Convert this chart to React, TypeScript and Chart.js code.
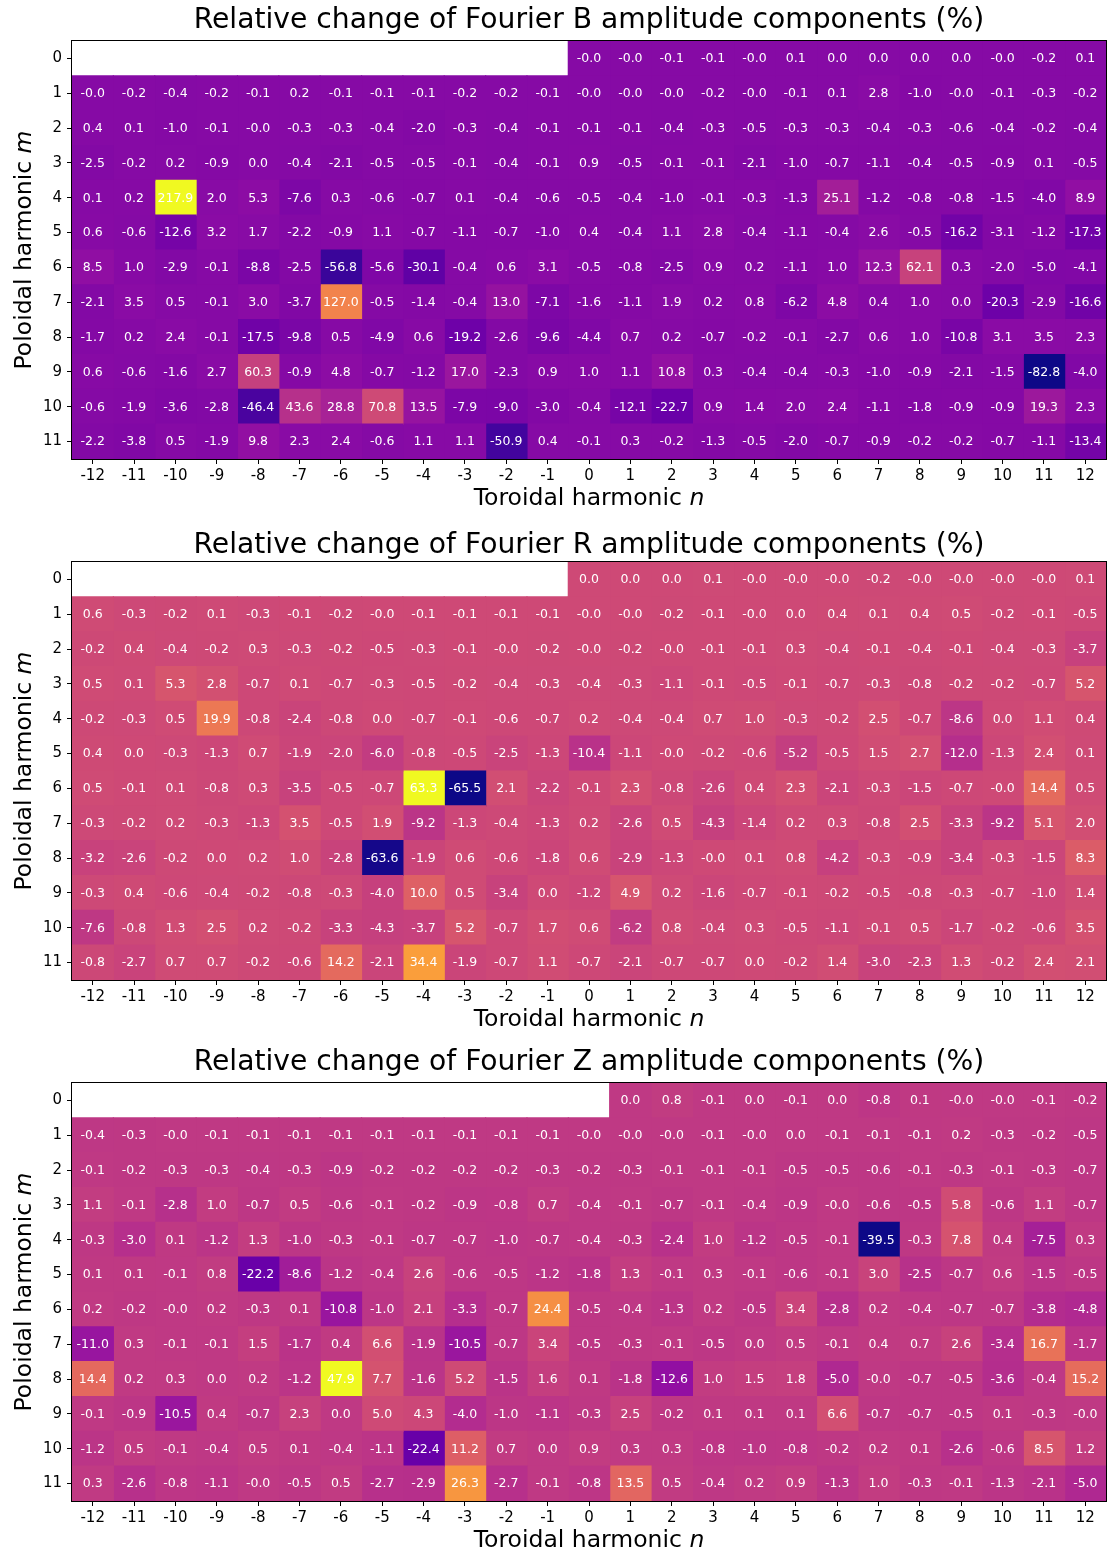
import React, { useEffect, useRef } from 'react';
import { Chart, registerables } from 'chart.js';

Chart.register(...registerables);

// Missing harmonics (m = 0 with negative n) are left blank.
const _ = null;

// Toroidal harmonic n (columns) and poloidal harmonic m (rows).
const toroidalN = [-12, -11, -10, -9, -8, -7, -6, -5, -4, -3, -2, -1, 0, 1, 2, 3, 4, 5, 6, 7, 8, 9, 10, 11, 12];
const poloidalM = [0, 1, 2, 3, 4, 5, 6, 7, 8, 9, 10, 11];

// Relative change (%) of the Fourier B amplitudes, row m = 0..11, column n = -12..12.
const changeB = [
  [_, _, _, _, _, _, _, _, _, _, _, _, -0.02, -0.02, -0.1, -0.1, -0.02, 0.1, 0.0, 0.0, 0.0, 0.0, -0.02, -0.2, 0.1],
  [-0.02, -0.2, -0.4, -0.2, -0.1, 0.2, -0.1, -0.1, -0.1, -0.2, -0.2, -0.1, -0.02, -0.02, -0.02, -0.2, -0.02, -0.1, 0.1, 2.8, -1.0, -0.02, -0.1, -0.3, -0.2],
  [0.4, 0.1, -1.0, -0.1, -0.02, -0.3, -0.3, -0.4, -2.0, -0.3, -0.4, -0.1, -0.1, -0.1, -0.4, -0.3, -0.5, -0.3, -0.3, -0.4, -0.3, -0.6, -0.4, -0.2, -0.4],
  [-2.5, -0.2, 0.2, -0.9, 0.0, -0.4, -2.1, -0.5, -0.5, -0.1, -0.4, -0.1, 0.9, -0.5, -0.1, -0.1, -2.1, -1.0, -0.7, -1.1, -0.4, -0.5, -0.9, 0.1, -0.5],
  [0.1, 0.2, 217.9, 2.0, 5.3, -7.6, 0.3, -0.6, -0.7, 0.1, -0.4, -0.6, -0.5, -0.4, -1.0, -0.1, -0.3, -1.3, 25.1, -1.2, -0.8, -0.8, -1.5, -4.0, 8.9],
  [0.6, -0.6, -12.6, 3.2, 1.7, -2.2, -0.9, 1.1, -0.7, -1.1, -0.7, -1.0, 0.4, -0.4, 1.1, 2.8, -0.4, -1.1, -0.4, 2.6, -0.5, -16.2, -3.1, -1.2, -17.3],
  [8.5, 1.0, -2.9, -0.1, -8.8, -2.5, -56.8, -5.6, -30.1, -0.4, 0.6, 3.1, -0.5, -0.8, -2.5, 0.9, 0.2, -1.1, 1.0, 12.3, 62.1, 0.3, -2.0, -5.0, -4.1],
  [-2.1, 3.5, 0.5, -0.1, 3.0, -3.7, 127.0, -0.5, -1.4, -0.4, 13.0, -7.1, -1.6, -1.1, 1.9, 0.2, 0.8, -6.2, 4.8, 0.4, 1.0, 0.0, -20.3, -2.9, -16.6],
  [-1.7, 0.2, 2.4, -0.1, -17.5, -9.8, 0.5, -4.9, 0.6, -19.2, -2.6, -9.6, -4.4, 0.7, 0.2, -0.7, -0.2, -0.1, -2.7, 0.6, 1.0, -10.8, 3.1, 3.5, 2.3],
  [0.6, -0.6, -1.6, 2.7, 60.3, -0.9, 4.8, -0.7, -1.2, 17.0, -2.3, 0.9, 1.0, 1.1, 10.8, 0.3, -0.4, -0.4, -0.3, -1.0, -0.9, -2.1, -1.5, -82.8, -4.0],
  [-0.6, -1.9, -3.6, -2.8, -46.4, 43.6, 28.8, 70.8, 13.5, -7.9, -9.0, -3.0, -0.4, -12.1, -22.7, 0.9, 1.4, 2.0, 2.4, -1.1, -1.8, -0.9, -0.9, 19.3, 2.3],
  [-2.2, -3.8, 0.5, -1.9, 9.8, 2.3, 2.4, -0.6, 1.1, 1.1, -50.9, 0.4, -0.1, 0.3, -0.2, -1.3, -0.5, -2.0, -0.7, -0.9, -0.2, -0.2, -0.7, -1.1, -13.4],
];

// Relative change (%) of the Fourier R amplitudes.
const changeR = [
  [_, _, _, _, _, _, _, _, _, _, _, _, 0.0, 0.0, 0.0, 0.1, -0.02, -0.02, -0.02, -0.2, -0.02, -0.02, -0.02, -0.02, 0.1],
  [0.6, -0.3, -0.2, 0.1, -0.3, -0.1, -0.2, -0.02, -0.1, -0.1, -0.1, -0.1, -0.02, -0.02, -0.2, -0.1, -0.02, 0.0, 0.4, 0.1, 0.4, 0.5, -0.2, -0.1, -0.5],
  [-0.2, 0.4, -0.4, -0.2, 0.3, -0.3, -0.2, -0.5, -0.3, -0.1, -0.02, -0.2, -0.02, -0.2, -0.02, -0.1, -0.1, 0.3, -0.4, -0.1, -0.4, -0.1, -0.4, -0.3, -3.7],
  [0.5, 0.1, 5.3, 2.8, -0.7, 0.1, -0.7, -0.3, -0.5, -0.2, -0.4, -0.3, -0.4, -0.3, -1.1, -0.1, -0.5, -0.1, -0.7, -0.3, -0.8, -0.2, -0.2, -0.7, 5.2],
  [-0.2, -0.3, 0.5, 19.9, -0.8, -2.4, -0.8, 0.0, -0.7, -0.1, -0.6, -0.7, 0.2, -0.4, -0.4, 0.7, 1.0, -0.3, -0.2, 2.5, -0.7, -8.6, 0.0, 1.1, 0.4],
  [0.4, 0.0, -0.3, -1.3, 0.7, -1.9, -2.0, -6.0, -0.8, -0.5, -2.5, -1.3, -10.4, -1.1, -0.02, -0.2, -0.6, -5.2, -0.5, 1.5, 2.7, -12.0, -1.3, 2.4, 0.1],
  [0.5, -0.1, 0.1, -0.8, 0.3, -3.5, -0.5, -0.7, 63.3, -65.5, 2.1, -2.2, -0.1, 2.3, -0.8, -2.6, 0.4, 2.3, -2.1, -0.3, -1.5, -0.7, -0.02, 14.4, 0.5],
  [-0.3, -0.2, 0.2, -0.3, -1.3, 3.5, -0.5, 1.9, -9.2, -1.3, -0.4, -1.3, 0.2, -2.6, 0.5, -4.3, -1.4, 0.2, 0.3, -0.8, 2.5, -3.3, -9.2, 5.1, 2.0],
  [-3.2, -2.6, -0.2, 0.0, 0.2, 1.0, -2.8, -63.6, -1.9, 0.6, -0.6, -1.8, 0.6, -2.9, -1.3, -0.02, 0.1, 0.8, -4.2, -0.3, -0.9, -3.4, -0.3, -1.5, 8.3],
  [-0.3, 0.4, -0.6, -0.4, -0.2, -0.8, -0.3, -4.0, 10.0, 0.5, -3.4, 0.0, -1.2, 4.9, 0.2, -1.6, -0.7, -0.1, -0.2, -0.5, -0.8, -0.3, -0.7, -1.0, 1.4],
  [-7.6, -0.8, 1.3, 2.5, 0.2, -0.2, -3.3, -4.3, -3.7, 5.2, -0.7, 1.7, 0.6, -6.2, 0.8, -0.4, 0.3, -0.5, -1.1, -0.1, 0.5, -1.7, -0.2, -0.6, 3.5],
  [-0.8, -2.7, 0.7, 0.7, -0.2, -0.6, 14.2, -2.1, 34.4, -1.9, -0.7, 1.1, -0.7, -2.1, -0.7, -0.7, 0.0, -0.2, 1.4, -3.0, -2.3, 1.3, -0.2, 2.4, 2.1],
];

// Relative change (%) of the Fourier Z amplitudes.
const changeZ = [
  [_, _, _, _, _, _, _, _, _, _, _, _, _, 0.0, 0.8, -0.1, 0.0, -0.1, 0.0, -0.8, 0.1, -0.02, -0.02, -0.1, -0.2],
  [-0.4, -0.3, -0.02, -0.1, -0.1, -0.1, -0.1, -0.1, -0.1, -0.1, -0.1, -0.1, -0.02, -0.02, -0.02, -0.1, -0.02, 0.0, -0.1, -0.1, -0.1, 0.2, -0.3, -0.2, -0.5],
  [-0.1, -0.2, -0.3, -0.3, -0.4, -0.3, -0.9, -0.2, -0.2, -0.2, -0.2, -0.3, -0.2, -0.3, -0.1, -0.1, -0.1, -0.5, -0.5, -0.6, -0.1, -0.3, -0.1, -0.3, -0.7],
  [1.1, -0.1, -2.8, 1.0, -0.7, 0.5, -0.6, -0.1, -0.2, -0.9, -0.8, 0.7, -0.4, -0.1, -0.7, -0.1, -0.4, -0.9, -0.02, -0.6, -0.5, 5.8, -0.6, 1.1, -0.7],
  [-0.3, -3.0, 0.1, -1.2, 1.3, -1.0, -0.3, -0.1, -0.7, -0.7, -1.0, -0.7, -0.4, -0.3, -2.4, 1.0, -1.2, -0.5, -0.1, -39.5, -0.3, 7.8, 0.4, -7.5, 0.3],
  [0.1, 0.1, -0.1, 0.8, -22.2, -8.6, -1.2, -0.4, 2.6, -0.6, -0.5, -1.2, -1.8, 1.3, -0.1, 0.3, -0.1, -0.6, -0.1, 3.0, -2.5, -0.7, 0.6, -1.5, -0.5],
  [0.2, -0.2, -0.02, 0.2, -0.3, 0.1, -10.8, -1.0, 2.1, -3.3, -0.7, 24.4, -0.5, -0.4, -1.3, 0.2, -0.5, 3.4, -2.8, 0.2, -0.4, -0.7, -0.7, -3.8, -4.8],
  [-11.0, 0.3, -0.1, -0.1, 1.5, -1.7, 0.4, 6.6, -1.9, -10.5, -0.7, 3.4, -0.5, -0.3, -0.1, -0.5, 0.0, 0.5, -0.1, 0.4, 0.7, 2.6, -3.4, 16.7, -1.7],
  [14.4, 0.2, 0.3, 0.0, 0.2, -1.2, 47.9, 7.7, -1.6, 5.2, -1.5, 1.6, 0.1, -1.8, -12.6, 1.0, 1.5, 1.8, -5.0, -0.02, -0.7, -0.5, -3.6, -0.4, 15.2],
  [-0.1, -0.9, -10.5, 0.4, -0.7, 2.3, 0.0, 5.0, 4.3, -4.0, -1.0, -1.1, -0.3, 2.5, -0.2, 0.1, 0.1, 0.1, 6.6, -0.7, -0.7, -0.5, 0.1, -0.3, -0.02],
  [-1.2, 0.5, -0.1, -0.4, 0.5, 0.1, -0.4, -1.1, -22.4, 11.2, 0.7, 0.0, 0.9, 0.3, 0.3, -0.8, -1.0, -0.8, -0.2, 0.2, 0.1, -2.6, -0.6, 8.5, 1.2],
  [0.3, -2.6, -0.8, -1.1, -0.02, -0.5, 0.5, -2.7, -2.9, 26.3, -2.7, -0.1, -0.8, 13.5, 0.5, -0.4, 0.2, 0.9, -1.3, 1.0, -0.3, -0.1, -1.3, -2.1, -5.0],
];

const panelTitles = [
  'Relative change of Fourier B amplitude components (%)',
  'Relative change of Fourier R amplitude components (%)',
  'Relative change of Fourier Z amplitude components (%)',
];

// Plasma colour map anchors at t = 0, 0.1, ..., 1.
const plasmaStops = ['#0d0887', '#41049d', '#6a00a8', '#8f0da4', '#b12a90', '#cc4778', '#e16462', '#f2844b', '#fca636', '#fcce25', '#f0f921'];

const hexRgb = (h: string) => [1, 3, 5].map((i) => parseInt(h.slice(i, i + 2), 16));
const plasmaRgb = plasmaStops.map(hexRgb);

function plasma(t: number): string {
  const c = Math.max(0, Math.min(1, t)) * (plasmaRgb.length - 1);
  const i = Math.min(Math.floor(c), plasmaRgb.length - 2);
  const f = c - i;
  const a = plasmaRgb[i];
  const b = plasmaRgb[i + 1];
  const rgb = a.map((v, k) => Math.round(v + (b[k] - v) * f));
  return `rgb(${rgb[0]},${rgb[1]},${rgb[2]})`;
}

const FAMILY = '"DejaVu Sans", sans-serif';
const W = 1108;
const AREA = { left: 72, right: 1106, top: 41, bottom: 459 };
const X_AXIS_H = 40;

const panels = [
  { title: panelTitles[0], values: changeB, top: 0, height: 521, titleBaseline: 28 },
  { title: panelTitles[1], values: changeR, top: 521, height: 521, titleBaseline: 32 },
  { title: panelTitles[2], values: changeZ, top: 1042, height: 511, titleBaseline: 28 },
];

type Part = { text: string; italic?: boolean };

function drawParts(ctx: CanvasRenderingContext2D, parts: Part[], size: number, cx: number, baseline: number) {
  const fontOf = (p: Part) => `${p.italic ? 'italic ' : ''}${size}px ${FAMILY}`;
  let total = 0;
  const widths = parts.map((p) => {
    ctx.font = fontOf(p);
    const w = ctx.measureText(p.text).width;
    total += w;
    return w;
  });
  let x = cx - total / 2;
  ctx.textAlign = 'left';
  ctx.textBaseline = 'alphabetic';
  parts.forEach((p, i) => {
    ctx.font = fontOf(p);
    ctx.fillText(p.text, x, baseline);
    x += widths[i];
  });
}

function HeatmapPanel({ panel }: { panel: (typeof panels)[number] }) {
  const ref = useRef<HTMLCanvasElement | null>(null);

  useEffect(() => {
    const canvas = ref.current;
    if (!canvas) return;
    const values = panel.values;
    const flat = values.flat().filter((v) => v !== null) as number[];
    const vmin = Math.min(...flat);
    const vmax = Math.max(...flat);
    const colorOf = (v: number | null) => (v === null ? 'rgba(0,0,0,0)' : plasma((v - vmin) / (vmax - vmin)));

    // One floating-bar dataset per toroidal harmonic: each bar spans its n cell.
    const datasets = toroidalN.map((n, j) => ({
      label: `n = ${n}`,
      data: values.map((row) => (row[j] === null ? null : [n - 0.5, n + 0.5])),
      backgroundColor: values.map((row) => colorOf(row[j])),
      borderWidth: 0,
      inflateAmount: 0.6,
      grouped: false,
      barPercentage: 1,
      categoryPercentage: 1,
    }));

    const decorations = {
      id: 'heatmapDecorations',
      afterDatasetsDraw(chart: any) {
        const { ctx, scales } = chart;
        ctx.save();
        ctx.fillStyle = '#ffffff';
        ctx.font = `12.5px ${FAMILY}`;
        ctx.textAlign = 'center';
        ctx.textBaseline = 'middle';
        values.forEach((row, i) => {
          row.forEach((v, j) => {
            if (v === null) return;
            ctx.fillText(v.toFixed(1), scales.x.getPixelForValue(toroidalN[j]), scales.y.getPixelForValue(i) + 0.5);
          });
        });
        ctx.restore();
      },
      afterDraw(chart: any) {
        const { ctx, chartArea } = chart;
        ctx.save();
        // Frame around the heatmap
        ctx.strokeStyle = '#000000';
        ctx.lineWidth = 1;
        ctx.strokeRect(chartArea.left - 0.5, chartArea.top - 0.5, chartArea.right - chartArea.left + 1, chartArea.bottom - chartArea.top + 1);

        const cx = (chartArea.left + chartArea.right) / 2;
        ctx.fillStyle = '#000000';
        // Title
        drawParts(ctx, [{ text: panel.title }], 28.2, cx, panel.titleBaseline);
        // x-axis label
        drawParts(ctx, [{ text: 'Toroidal harmonic ' }, { text: 'n', italic: true }], 23.5, cx, 505);
        // y-axis label (rotated)
        ctx.translate(30.5, (chartArea.top + chartArea.bottom) / 2);
        ctx.rotate(-Math.PI / 2);
        drawParts(ctx, [{ text: 'Poloidal harmonic ' }, { text: 'm', italic: true }], 23.5, 0, 0);
        ctx.restore();
      },
    };

    const tickGrid = {
      display: true,
      drawOnChartArea: false,
      drawTicks: true,
      tickLength: 5,
      tickColor: '#000000',
      tickWidth: 1,
    };

    const chart = new Chart(canvas, {
      type: 'bar',
      data: { labels: poloidalM.map(String), datasets: datasets as any },
      options: {
        indexAxis: 'y',
        responsive: false,
        animation: false,
        events: [],
        layout: {
          padding: {
            top: AREA.top,
            left: 0,
            right: W - AREA.right,
            bottom: panel.height - AREA.bottom - X_AXIS_H,
          },
        },
        plugins: {
          legend: { display: false },
          tooltip: { enabled: false },
          title: { display: false },
        },
        scales: {
          x: {
            type: 'linear',
            position: 'bottom',
            min: -12.5,
            max: 12.5,
            afterBuildTicks: (s: any) => {
              s.ticks = toroidalN.map((v) => ({ value: v }));
            },
            afterFit: (s: any) => {
              s.height = X_AXIS_H;
            },
            ticks: {
              autoSkip: false,
              maxRotation: 0,
              color: '#000000',
              padding: 3,
              font: { family: FAMILY, size: 15 },
              callback: (v: any) => String(v),
            },
            grid: tickGrid,
            border: { display: false },
          },
          y: {
            type: 'category',
            offset: true,
            afterFit: (s: any) => {
              s.width = AREA.left;
            },
            ticks: {
              autoSkip: false,
              color: '#000000',
              padding: 5,
              font: { family: FAMILY, size: 15 },
            },
            grid: { ...tickGrid, offset: false },
            border: { display: false },
          },
        },
      } as any,
      plugins: [decorations],
    });
    return () => chart.destroy();
  }, [panel]);

  return (
    <canvas
      ref={ref}
      width={W}
      height={panel.height}
      style={{ position: 'absolute', left: 0, top: panel.top, width: W, height: panel.height }}
    />
  );
}

export default function App() {
  return (
    <div style={{ position: 'absolute', left: 0, top: 0, width: W, height: 1553, overflow: 'hidden', background: '#ffffff' }}>
      {panels.map((p) => (
        <HeatmapPanel key={p.title} panel={p} />
      ))}
    </div>
  );
}
